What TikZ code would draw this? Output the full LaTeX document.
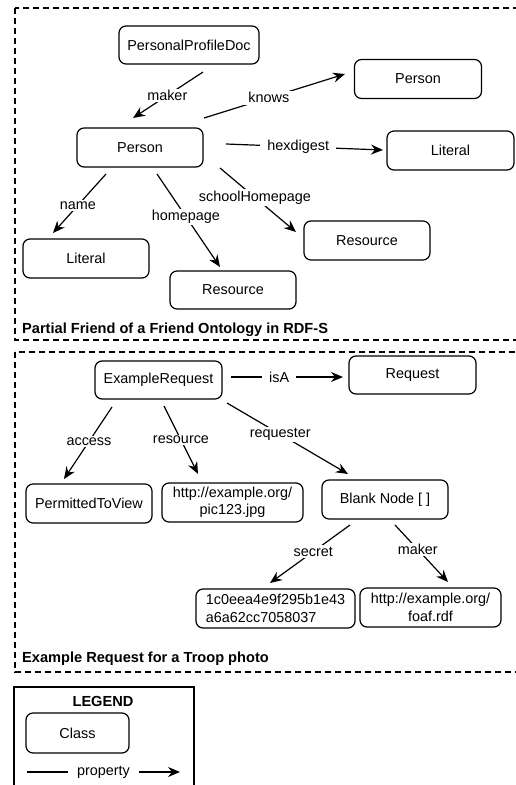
\documentclass[tikz,border=0pt]{standalone}
\usepackage{fontspec}
\setmainfont{Liberation Sans}
\usetikzlibrary{arrows.meta}
\begin{document}
\begin{tikzpicture}[x=1pt,y=-1pt,
  cls/.style={draw, line width=1.2pt, rounded corners=7pt, inner sep=0pt, font=\fontsize{14.4}{17.5}\selectfont},
  rel/.style={line width=1.2pt, -{Stealth[length=12pt,width=10pt,inset=4pt]}},
  lbl/.style={fill=white, inner xsep=7pt, inner ysep=1.5pt, font=\fontsize{14.4}{17}\selectfont},
  frame/.style={dash pattern=on 6pt off 4pt, line width=1.1pt},
  ttl/.style={anchor=west, inner sep=0pt, font=\fontsize{14.6}{17}\selectfont\bfseries}
]
\clip (0,0) rectangle (516,785);
\fill[white] (0,0) rectangle (516,785);

% frames
\draw[frame] (15,8) rectangle (530,340);
\draw[frame] (15,352) rectangle (530,672);
\draw[line width=2.5pt] (14,687) rectangle (194,800);

% ---------- section 1 ----------
\node[cls, minimum width=140pt, minimum height=38pt] (ppd) at (189,45) {PersonalProfileDoc};
\node[cls, minimum width=127pt, minimum height=39pt] (person2) at (418,79) {Person};
\node[cls, minimum width=126pt, minimum height=39pt] (person) at (140,147.5) {Person};
\node[cls, minimum width=127pt, minimum height=39pt] (litR) at (450.5,150.5) {Literal};
\node[cls, minimum width=126pt, minimum height=39pt] (litL) at (86,258.5) {Literal};
\node[cls, minimum width=126pt, minimum height=38pt] (resM) at (233,290) {Resource};
\node[cls, minimum width=126pt, minimum height=39pt] (resR) at (367,240.5) {Resource};
\node[ttl] (t1) at (22,330) {Partial Friend of a Friend Ontology in RDF-S};

\coordinate (m1) at (203,72);  \coordinate (m2) at (133,118);
\coordinate (k1) at (204,118); \coordinate (k2) at (345,74);
\coordinate (h1) at (226,144); \coordinate (h2) at (383,150);
\coordinate (n1) at (106,174); \coordinate (n2) at (53,233);
\coordinate (hp1) at (157,174); \coordinate (hp2) at (220,267);
\coordinate (s1) at (220,168); \coordinate (s2) at (296,232);

\draw[rel] (m1) -- node[lbl, pos=0.51] {maker} (m2);
\draw[rel] (k1) -- node[lbl, pos=0.46] {knows} (k2);
\draw[rel] (h1) -- node[lbl, pos=0.46] {hexdigest} (h2);
\draw[rel] (n1) -- node[lbl, pos=0.53] {name} (n2);
\draw[rel] (hp1) -- node[lbl, pos=0.46] {homepage} (hp2);
\draw[rel] (s1) -- node[lbl, pos=0.46] {schoolHomepage} (s2);

% ---------- section 2 ----------
\node[cls, minimum width=127pt, minimum height=38pt] (exreq) at (158.5,380) {ExampleRequest};
\node[cls, minimum width=127pt, minimum height=38pt] (req) at (412.5,375) {Request};
\node[cls, minimum width=126pt, minimum height=39pt] (perm) at (89,503.5) {PermittedToView};
\node[cls, minimum width=141pt, minimum height=39pt, align=center] (pic) at (232.5,502.5) {http://example.org/\\pic123.jpg};
\node[cls, minimum width=126pt, minimum height=39pt] (blank) at (385,499.5) {Blank Node [ ]};
\node[cls, minimum width=159pt, minimum height=39pt, align=left] (hash) at (275.5,608.5) {1c0eea4e9f295b1e43\\a6a62cc7058037};
\node[cls, minimum width=141pt, minimum height=39pt, align=center] (foaf) at (430.5,607.5) {http://example.org/\\foaf.rdf};
\node[ttl] (t2) at (22,659) {Example Request for a Troop photo};

\coordinate (i1) at (231,377); \coordinate (i2) at (343,377);
\coordinate (a1) at (112,407); \coordinate (a2) at (64,479);
\coordinate (r1) at (164,406); \coordinate (r2) at (198,474);
\coordinate (q1) at (227,403); \coordinate (q2) at (348,474);
\coordinate (se1) at (350,525); \coordinate (se2) at (270,583);
\coordinate (mk1) at (395,525); \coordinate (mk2) at (448,582);

\draw[rel] (i1) -- node[lbl, pos=0.43] {isA} (i2);
\draw[rel] (a1) -- node[lbl, pos=0.48] {access} (a2);
\draw[rel] (r1) -- node[lbl, pos=0.5] {resource} (r2);
\draw[rel] (q1) -- node[lbl, pos=0.44] {requester} (q2);
\draw[rel] (se1) -- node[lbl, pos=0.46] {secret} (se2);
\draw[rel] (mk1) -- node[lbl, pos=0.43] {maker} (mk2);

% ---------- legend ----------
\node[font=\fontsize{14.6}{17}\selectfont\bfseries, inner sep=0pt] (legend) at (103,701) {LEGEND};
\node[cls, minimum width=103pt, minimum height=40pt] (class) at (77.5,733) {Class};
\coordinate (p1) at (27,772); \coordinate (p2) at (180,772);
\draw[rel] (p1) -- node[lbl, pos=0.5, inner xsep=9pt] {property} (p2);
\end{tikzpicture}
\end{document}
